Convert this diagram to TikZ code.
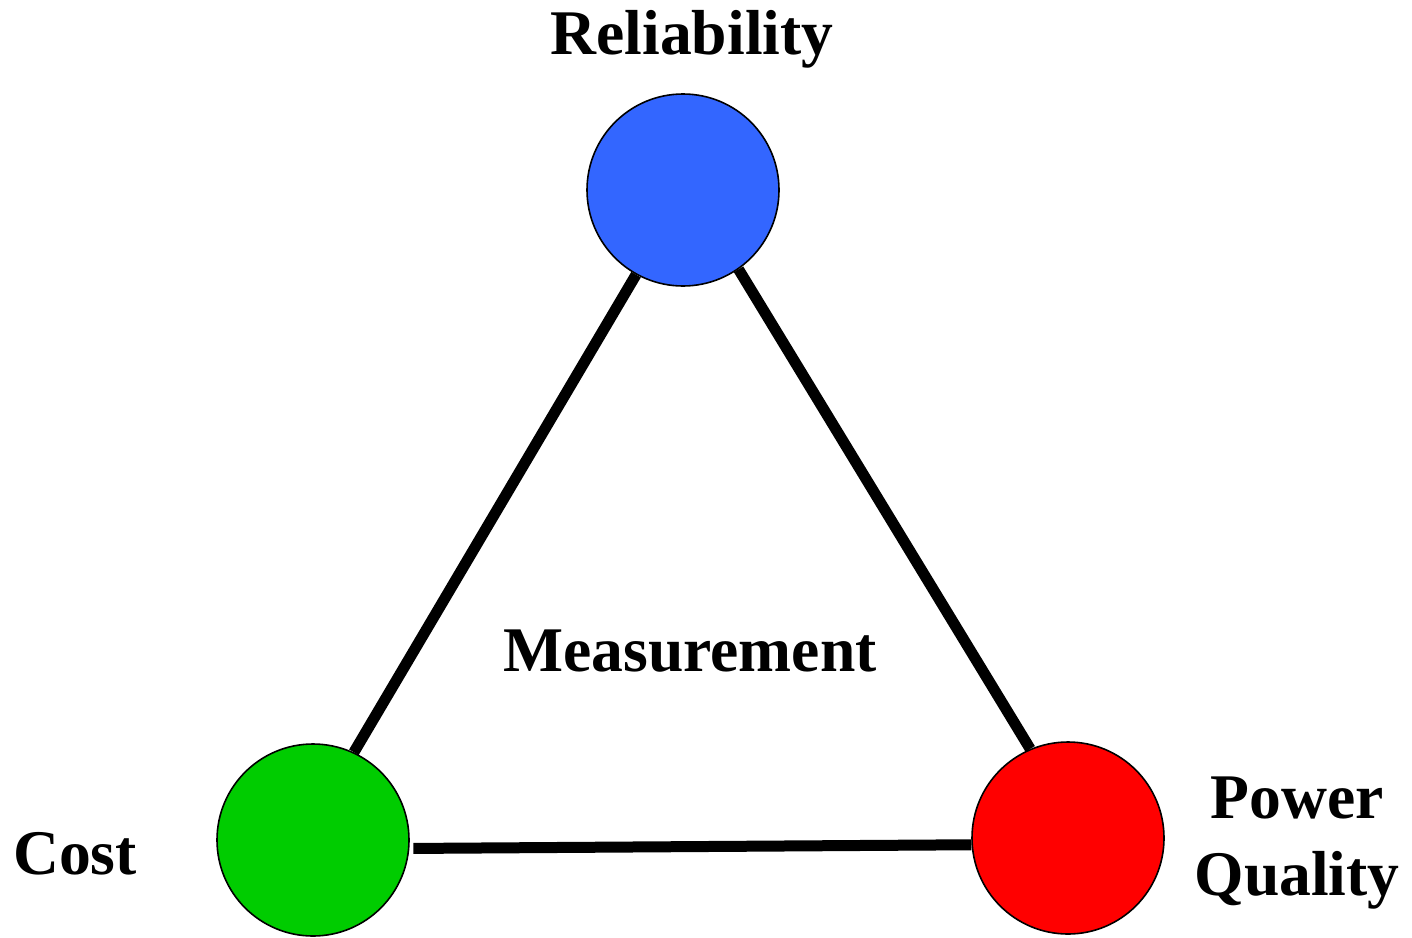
\documentclass[tikz,border=0pt]{standalone}
\usepackage{fontspec}
\setmainfont{Liberation Serif}
\begin{document}
\begin{tikzpicture}[x=0.5pt,y=-0.5pt,
  ball/.style={circle,draw=black,line width=0.8pt,minimum size=96pt,inner sep=0pt},
  edge/.style={line width=5.5pt,line cap=butt},
  lbl/.style={font=\fontsize{31.8}{38.5}\selectfont\bfseries,inner sep=0pt,align=center}]
\useasboundingbox (0,0) rectangle (1412,937);
\node[ball,fill={rgb,255:red,51;green,102;blue,255}] (rel) at (683,190) {};
\node[ball,fill={rgb,255:red,0;green,204;blue,0}] (cost) at (313,840) {};
\node[ball,fill={rgb,255:red,255;green,0;blue,0}] (pq) at (1068,838) {};
\draw[edge] (rel.241) -- (cost.65);
\draw[edge] (rel.305) -- (pq.113);
\draw[edge] ([xshift=2pt]cost.-5) -- (pq.184);
\node[lbl] (trel) at (692,39) {Reliability};
\node[lbl] (tmeas) at (690,651) {Measurement};
\node[lbl] (tcost) at (75,854) {Cost};
\node[lbl] (tpq) at (1297,843) {Power\\Quality};
\end{tikzpicture}
\end{document}
